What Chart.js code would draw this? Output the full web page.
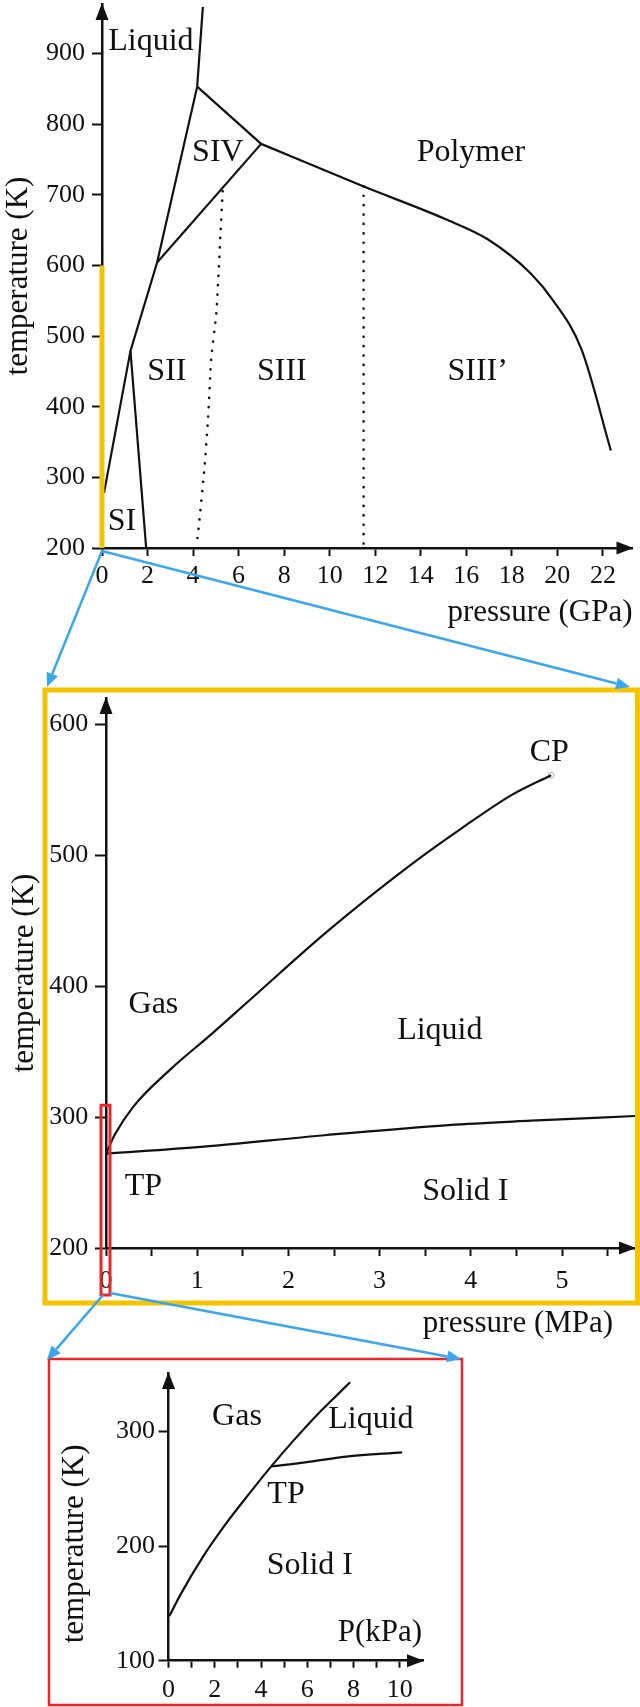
<!DOCTYPE html>
<html>
<head>
<meta charset="utf-8">
<title>Phase diagram</title>
<script src="https://cdn.jsdelivr.net/npm/chart.js@4.4.1/dist/chart.umd.min.js"></script>
<style>
  html, body { margin: 0; padding: 0; background: #fff; }
  #page { position: relative; width: 640px; height: 1707px; overflow: hidden; }
  canvas { position: absolute; left: 0; }
  #c1 { top: 0; }
  #c2 { top: 680px; }
  #c3 { top: 1340px; }
  #overlay { top: 0; pointer-events: none; }
</style>
</head>
<body>
<div id="page">
  <canvas id="c1" width="640" height="640"></canvas>
  <canvas id="c2" width="640" height="665"></canvas>
  <canvas id="c3" width="640" height="367"></canvas>
  <canvas id="overlay" width="640" height="1707"></canvas>
</div>
<script>
// ===== data, panel 1 (pressure in GPa) =====
const gpaTicks = [0, 2, 4, 6, 8, 10, 12, 14, 16, 18, 20, 22];
const tempTicks1 = [200, 300, 400, 500, 600, 700, 800, 900];
const meltP = [0.09, 1.25, 2.42, 4.18, 4.43];
const meltT = [278, 479, 604, 853, 966];
const siP = [1.25, 1.94];
const siT = [479, 200];
const sivLowP = [2.42, 6.99];
const sivLowT = [604, 772];
const sivTopP = [4.18, 6.99];
const sivTopT = [853, 772];
const polyP = [6.99, 11.47, 15.05, 16.94, 18.82, 19.8, 21.06, 22.35];
const polyT = [772, 712, 666, 637, 589, 551, 481, 338];
const dot1P = [5.3, 5.2, 5.02, 4.8, 4.66, 4.48, 4.21, 4.15];
const dot1T = [705, 642, 532, 469, 385, 306, 218, 205];
const dot2P = [11.49, 11.49];
const dot2T = [712, 205];
const zoomBarP = [0, 0];
const zoomBarT = [200, 600];
const names1 = ["Liquid", "SIV", "Polymer", "SII", "SIII", "SIII\u2019", "SI"];
const names1P = [2.15, 5.09, 16.2, 2.85, 7.9, 16.5, 0.88];
const names1T = [917, 760, 760, 449, 449, 449, 237];

// ===== data, panel 2 (pressure in MPa) =====
const mpaTicks = [0, 0.5, 1, 1.5, 2, 2.5, 3, 3.5, 4, 4.5, 5, 5.5];
const tempTicks2 = [200, 300, 400, 500, 600];
const vapP = [0, 0.1, 0.3, 0.7, 1.15, 1.57, 2.43, 3.33, 3.91, 4.45, 4.88];
const vapT = [272, 287, 308, 336, 363, 389, 442, 492, 521, 546, 561];
const fusP = [0, 1.07, 2.42, 3.76, 4.66, 5.8];
const fusT = [272, 277.4, 286.3, 293.9, 297.2, 300.8];
const cpP = [4.88];
const cpT = [561];
const names2 = ["Gas", "Liquid", "TP", "Solid I", "CP"];
const names2P = [0.52, 3.66, 0.41, 3.94, 4.86];
const names2T = [385.5, 366.4, 246.6, 242.7, 578.6];

// ===== data, panel 3 (pressure in kPa) =====
const kpaTicks = [0, 1, 2, 3, 4, 5, 6, 7, 8, 9, 10];
const tempTicks3 = [100, 200, 300];
const subP = [0.04, 0.5, 1.5, 2.5, 3.5, 4.44, 5.4, 6.4, 7.35, 7.85];
const subT = [139, 157, 191, 220, 246, 269.5, 292, 314, 333, 343];
const fus3P = [4.44, 5.91, 7.67, 10.1];
const fus3T = [269.5, 273, 278, 281.7];
const names3 = ["Gas", "Liquid", "TP", "Solid I"];
const names3P = [2.96, 8.75, 5.08, 6.11];
const names3T = [312.8, 310.2, 244.7, 182.7];

// ===== style =====
const INK = "#111";
const YELLOW = "#F5C400";
const RED = "#E8262B";
const BLUE = "#3AA6EE";
const FONT = "'Liberation Serif', 'Times New Roman', serif";
const TOP2 = 680, TOP3 = 1340;   // canvas offsets in the page

Chart.defaults.font.family = FONT;
Chart.defaults.color = INK;

const pts = (xs, ys) => xs.map((x, i) => ({ x: x, y: ys[i] }));

function line(xs, ys, extra) {
  return Object.assign({
    data: pts(xs, ys), showLine: true, borderColor: INK, borderWidth: 2.2,
    pointRadius: 0, pointHoverRadius: 0, tension: 0, fill: false, clip: false
  }, extra || {});
}
const smooth = { cubicInterpolationMode: "monotone" };
const dotted = { borderDash: [0.1, 9.3], borderWidth: 2.6, borderCapStyle: "round" };

function texts(names, xs, ys) {
  return names.map((t, i) => ({ text: t, x: xs[i], y: ys[i] }));
}

function xAxis(min, max, vals, o) {
  return {
    type: "linear", position: "bottom", min: min, max: max,
    afterBuildTicks: s => { s.ticks = vals.map(v => ({ value: v })); },
    afterFit: s => { s.height = o.height; s.paddingLeft = 0; s.paddingRight = 0; },
    border: { display: true, color: INK, width: 2.5 },
    grid: { display: true, drawOnChartArea: false, drawTicks: true, tickLength: o.tick, tickWidth: 2, tickColor: INK },
    ticks: { font: { size: 26 }, color: INK, padding: o.pad, autoSkip: false, maxRotation: 0, minRotation: 0,
             callback: o.label || (v => String(v)) },
    title: o.title || { display: false }
  };
}

function yAxis(min, max, vals, o) {
  return {
    type: "linear", position: "left", min: min, max: max,
    afterBuildTicks: s => { s.ticks = vals.map(v => ({ value: v })); },
    afterFit: s => { s.width = o.width; s.paddingTop = 0; s.paddingBottom = 0; },
    border: { display: true, color: INK, width: 2.5 },
    grid: { display: true, drawOnChartArea: false, drawTicks: true, tickLength: o.tick, tickWidth: 2, tickColor: INK },
    ticks: { font: { size: 26 }, color: INK, padding: o.pad, autoSkip: false, callback: v => String(v) },
    title: o.title || { display: false }
  };
}

// arrow heads at the end of both axes
const axisArrows = {
  id: "axisArrows",
  afterDraw(chart) {
    const { ctx, chartArea: a } = chart;
    ctx.save();
    ctx.fillStyle = INK;
    ctx.beginPath();
    ctx.moveTo(a.right + 1, a.bottom);
    ctx.lineTo(a.right - 16, a.bottom - 6.5);
    ctx.lineTo(a.right - 16, a.bottom + 6.5);
    ctx.closePath();
    ctx.fill();
    ctx.beginPath();
    ctx.moveTo(a.left, a.top - 1);
    ctx.lineTo(a.left - 6.5, a.top + 16);
    ctx.lineTo(a.left + 6.5, a.top + 16);
    ctx.closePath();
    ctx.fill();
    ctx.restore();
  }
};

// region names, placed in data units
const regionText = {
  id: "regionText",
  afterDatasetsDraw(chart, args, opts) {
    const { ctx, scales } = chart;
    ctx.save();
    ctx.fillStyle = INK;
    ctx.textBaseline = "middle";
    (opts.items || []).forEach(it => {
      ctx.save();
      ctx.font = (it.size || 32) + "px " + FONT;
      ctx.textAlign = it.align || "center";
      ctx.translate(scales.x.getPixelForValue(it.x), scales.y.getPixelForValue(it.y));
      if (it.rot) ctx.rotate(it.rot);
      ctx.fillText(it.text, 0, 0);
      ctx.restore();
    });
    ctx.restore();
  }
};

function makeChart(id, cfg) {
  return new Chart(document.getElementById(id), {
    type: "scatter",
    data: { datasets: cfg.datasets },
    options: {
      responsive: false, animation: false, events: [],
      layout: { padding: cfg.padding, autoPadding: false },
      plugins: { legend: { display: false }, tooltip: { enabled: false }, regionText: { items: cfg.texts } },
      scales: { x: cfg.x, y: cfg.y }
    },
    plugins: [axisArrows, regionText]
  });
}

// ===== panel 1 =====
const c1 = makeChart("c1", {
  padding: { left: 0, top: 4, right: 7.5, bottom: 0 },
  datasets: [
    line(zoomBarP, zoomBarT, { borderColor: YELLOW, borderWidth: 5 }),
    line(meltP, meltT),
    line(siP, siT),
    line(sivLowP, sivLowT),
    line(sivTopP, sivTopT),
    line(polyP, polyT, smooth),
    line(dot1P, dot1T, Object.assign({ tension: 0.2 }, dotted)),
    line(dot2P, dot2T, dotted)
  ],
  texts: texts(names1, names1P, names1T),
  x: xAxis(0, 23.3, gpaTicks, {
    height: 92, tick: 8, pad: 4.4,
    title: { display: true, text: "pressure (GPa)", align: "end", color: INK, font: { size: 31 }, padding: { top: 0, bottom: 8.4 } }
  }),
  y: yAxis(200, 970, tempTicks1, {
    width: 102, tick: 10, pad: 7,
    title: { display: true, text: "temperature (K)", color: INK, font: { size: 31 }, padding: { top: 0, bottom: 0 } }
  })
});

// ===== panel 2 =====
const c2 = makeChart("c2", {
  padding: { left: 6.4, top: 18, right: 5, bottom: 0 },
  datasets: [
    line(vapP, vapT, smooth),
    line(fusP, fusT, smooth),
    line(cpP, cpT, { showLine: false, pointRadius: 3, pointBackgroundColor: "#fff", pointBorderColor: "#aaa", pointBorderWidth: 1 })
  ],
  texts: texts(names2, names2P, names2T).concat([
    { text: "pressure (MPa)", x: 5.56, y: 142, align: "right", size: 31 }
  ]),
  x: xAxis(0, 5.8, mpaTicks, {
    height: 97, tick: 8, pad: 9.4,
    label: v => (Number.isInteger(v) ? String(v) : "")
  }),
  y: yAxis(200, 620, tempTicks2, {
    width: 99.6, tick: 11, pad: 6.7,
    title: { display: true, text: "temperature (K)", color: INK, font: { size: 31 }, padding: { top: 0, bottom: 0 } }
  })
});

// ===== panel 3 =====
const c3 = makeChart("c3", {
  padding: { left: 0, top: 33, right: 217, bottom: 0 },
  datasets: [
    line(subP, subT, smooth),
    line(fus3P, fus3T, smooth)
  ],
  texts: texts(names3, names3P, names3T).concat([
    { text: "P(kPa)", x: 9.14, y: 124.2, size: 31 },
    { text: "temperature (K)", x: -4.04, y: 201.9, size: 31, rot: -Math.PI / 2 }
  ]),
  x: xAxis(0, 11, kpaTicks, {
    height: 46.3, tick: 7, pad: 6.7,
    label: v => (v % 2 === 0 ? String(v) : "")
  }),
  y: yAxis(100, 351, tempTicks3, { width: 168.5, tick: 10, pad: 3.5 })
});

// ===== zoom frames and connecting arrows =====
const ov = document.getElementById("overlay").getContext("2d");
const yellowBox = { x: 45, y: 690, w: 592.5, h: 613 };
const redBox = { x: 49, y: 1359, w: 413, h: 346 };

function arrow(ctx, x0, y0, x1, y1) {
  const ang = Math.atan2(y1 - y0, x1 - x0), L = 14, W = 6;
  const bx = x1 - L * Math.cos(ang), by = y1 - L * Math.sin(ang);
  ctx.beginPath();
  ctx.moveTo(x0, y0);
  ctx.lineTo(bx, by);
  ctx.stroke();
  ctx.beginPath();
  ctx.moveTo(x1, y1);
  ctx.lineTo(bx + W * Math.sin(ang), by - W * Math.cos(ang));
  ctx.lineTo(bx - W * Math.sin(ang), by + W * Math.cos(ang));
  ctx.closePath();
  ctx.fill();
}

ov.strokeStyle = YELLOW;
ov.lineWidth = 5;
ov.strokeRect(yellowBox.x, yellowBox.y, yellowBox.w, yellowBox.h);

// red marker around the kPa range on the MPa panel
const rx = c2.scales.x.getPixelForValue(0);
const rTop = TOP2 + c2.scales.y.getPixelForValue(309);
const rBot = TOP2 + c2.scales.y.getPixelForValue(200) + 47;
ov.strokeStyle = RED;
ov.lineWidth = 3;
ov.strokeRect(rx - 5, rTop, 9, rBot - rTop);
ov.lineWidth = 2.5;
ov.strokeRect(redBox.x, redBox.y, redBox.w, redBox.h);

ov.strokeStyle = BLUE;
ov.fillStyle = BLUE;
ov.lineWidth = 2.5;
const ox = c1.scales.x.getPixelForValue(0);
const oy = c1.scales.y.getPixelForValue(200) + 3;
arrow(ov, ox, oy, yellowBox.x + 2, yellowBox.y - 3);
arrow(ov, ox, oy, 630, yellowBox.y - 3);
arrow(ov, rx - 3, rBot, redBox.x - 2, redBox.y + 1);
arrow(ov, rx + 4, rBot - 2, redBox.x + redBox.w - 1, redBox.y);
</script>
</body>
</html>
